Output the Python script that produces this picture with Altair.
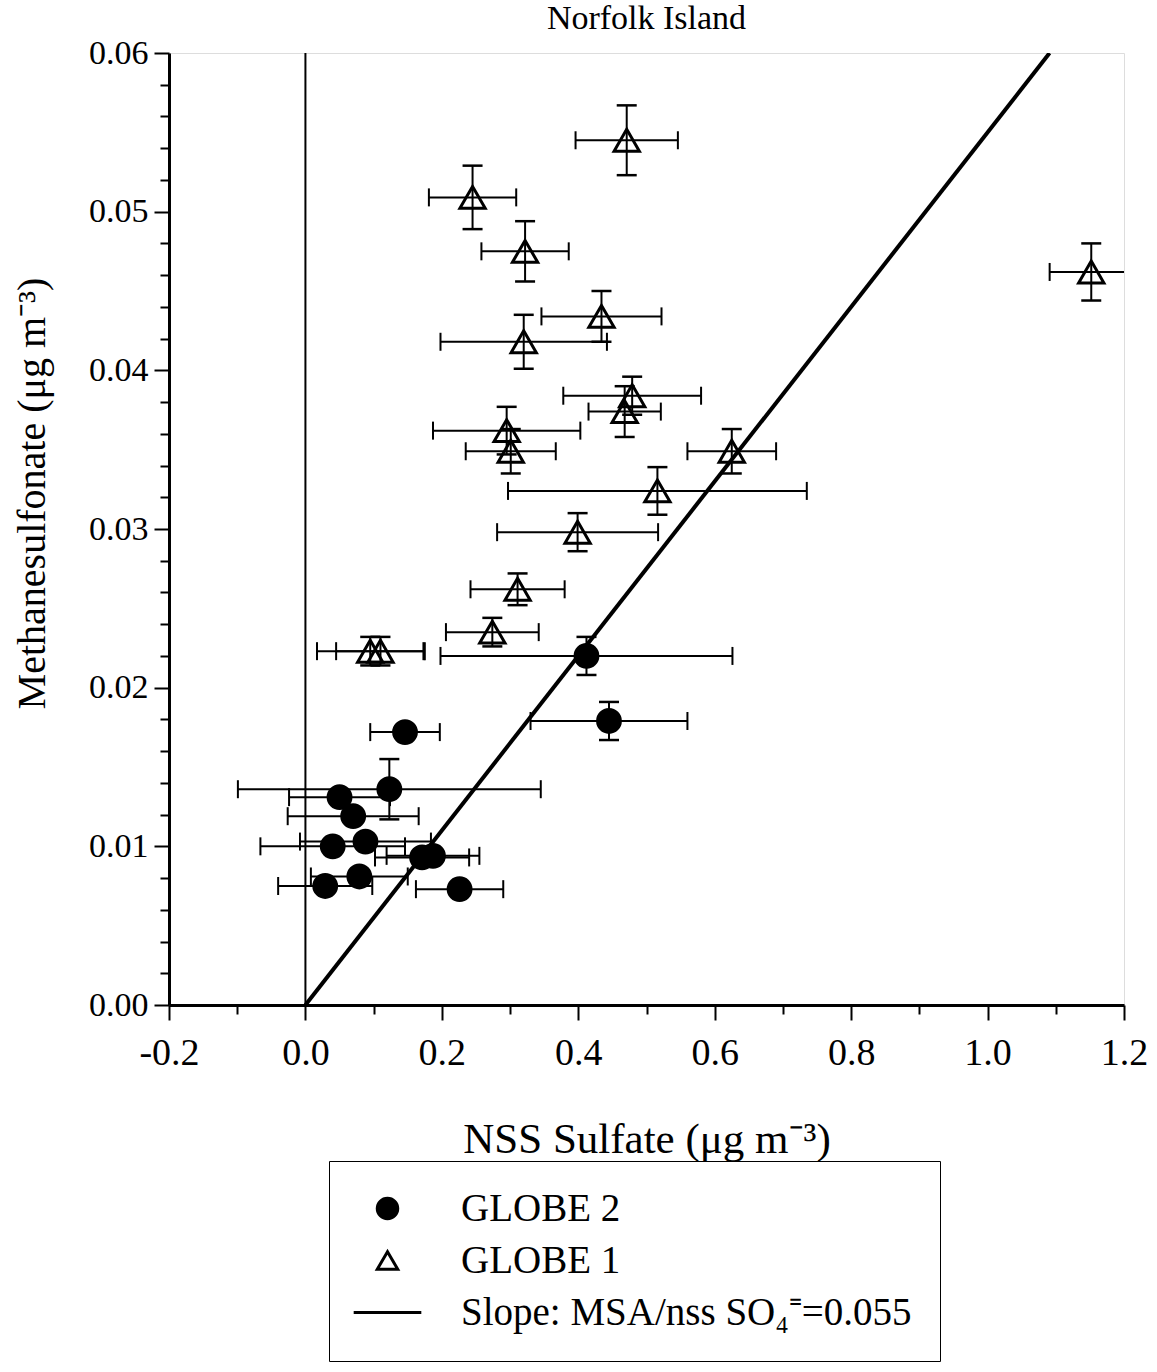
import altair as alt
import pandas as pd

# ---------------- data ----------------
# GLOBE 1 (open triangles)
g1_x = [0.471, 0.245, 0.322, 0.434, 0.320, 0.479, 0.468, 0.295, 0.301, 0.625,
        0.516, 0.399, 0.311, 0.274, 0.095, 0.110, 1.152]
g1_y = [0.0545, 0.0509, 0.0475, 0.0434, 0.0418, 0.0384, 0.0374, 0.0362, 0.0349,
        0.0349, 0.0324, 0.0298, 0.0262, 0.0235, 0.0223, 0.0223, 0.0462]
g1_xerr = [0.075, 0.064, 0.064, 0.088, 0.122, 0.101, 0.053, 0.108, 0.066, 0.065,
           0.219, 0.118, 0.069, 0.068, 0.078, 0.065, 0.061]
g1_yerr = [0.0022, 0.0020, 0.0019, 0.0016, 0.0017, 0.0012, 0.0016, 0.0015, 0.0014,
           0.0014, 0.0015, 0.0012, 0.0010, 0.0009, 0.0009, 0.0009, 0.0018]

# GLOBE 2 (filled circles)
g2_x = [0.412, 0.146, 0.445, 0.123, 0.050, 0.070, 0.040, 0.088, 0.171, 0.187,
        0.029, 0.079, 0.226]
g2_y = [0.0220, 0.0172, 0.0179, 0.0136, 0.0131, 0.0119, 0.0100, 0.0103, 0.0093,
        0.0094, 0.0075, 0.0081, 0.0073]
g2_xerr = [0.214, 0.051, 0.115, 0.222, 0.074, 0.096, 0.106, 0.096, 0.069, 0.068,
           0.069, 0.071, 0.064]
g2_yerr = [0.0012, 0.0, 0.0012, 0.0019, 0.0, 0.0, 0.0, 0.0, 0.0, 0.0, 0.0, 0.0, 0.0]

slope_value = 0.055
slope_x = [0.0, 0.06 / slope_value]
zero_x = [0.0]

legend_items = ["GLOBE 2", "GLOBE 1", "Slope: MSA/nss SO\u2084\u207c=0.055"]

x_ticks = [round(-0.2 + 0.1 * i, 2) for i in range(15)]
y_ticks = [round(0.002 * i, 3) for i in range(31)]

# ---------------- tables ----------------
rows = []
for name, xs, ys, xe, ye in [("GLOBE 2", g2_x, g2_y, g2_xerr, g2_yerr),
                             ("GLOBE 1", g1_x, g1_y, g1_xerr, g1_yerr)]:
    for a, b, c, d in zip(xs, ys, xe, ye):
        rows.append({"series": name, "x": a, "y": b,
                     "xlo": a - c, "xhi": a + c, "ylo": b - d, "yhi": b + d, "yerr": d})
df = pd.DataFrame(rows)

hcaps = pd.DataFrame({"cx": list(df["xlo"]) + list(df["xhi"]),
                      "cy": list(df["y"]) * 2})
dv = df[df["yerr"] > 0]
vcaps = pd.DataFrame({"cx": list(dv["x"]) * 2,
                      "cy": list(dv["ylo"]) + list(dv["yhi"])})
slope_df = pd.DataFrame({"x": slope_x, "y": [slope_value * v for v in slope_x]})
zero_df = pd.DataFrame({"x": zero_x})

FONT = "Liberation Serif"
xscale = alt.Scale(domain=[-0.2, 1.2], nice=False, zero=False)
yscale = alt.Scale(domain=[0.0, 0.06], nice=False, zero=False)

x_major = "abs(datum.value*5 - round(datum.value*5)) < 1e-6"
y_major = "abs(datum.value*100 - round(datum.value*100)) < 1e-6"

xaxis = alt.Axis(values=x_ticks, grid=False,
                 labelExpr=f"{x_major} ? replace(format(datum.value, '.1f'), '\u2212', '-') : ''",
                 tickSize={"condition": {"test": x_major, "value": 15}, "value": 9},
                 tickWidth=2, tickColor="black", domainWidth=3, domainColor="black",
                 labelFont=FONT, labelFontSize=38, labelColor="black", labelPadding=14,
                 labelFlush=False, labelOverlap=False,
                 titleFont=FONT, titleFontSize=43, titleFontWeight="normal",
                 titleColor="black", titlePadding=46)
yaxis = alt.Axis(values=y_ticks, grid=False,
                 labelExpr=f"{y_major} ? format(datum.value, '.2f') : ''",
                 tickSize={"condition": {"test": y_major, "value": 15}, "value": 9},
                 tickWidth=2, tickColor="black", domainWidth=3, domainColor="black",
                 labelFont=FONT, labelFontSize=34, labelColor="black", labelPadding=6,
                 labelFlush=False, labelOverlap=False,
                 titleFont=FONT, titleFontSize=40, titleFontWeight="normal",
                 titleColor="black", titlePadding=36, titleY=440)

XT = "NSS Sulfate (\u03bcg m\u207b\u00b3)"
YT = "Methanesulfonate (\u03bcg m\u207b\u00b3)"


def X(field):
    return alt.X(field, type="quantitative", scale=xscale, axis=xaxis, title=XT)


def Y(field):
    return alt.Y(field, type="quantitative", scale=yscale, axis=yaxis, title=YT)


zero_line = alt.Chart(zero_df).mark_rule(color="black", strokeWidth=2, clip=True).encode(
    x=X("x"))

slope_line = alt.Chart(slope_df).mark_line(color="black", strokeWidth=4, clip=True).encode(
    x=X("x"), y=Y("y"))

hbars = alt.Chart(df).mark_rule(color="black", strokeWidth=2, clip=True).encode(
    x=X("xlo"), x2="xhi", y=Y("y"))
hcap = alt.Chart(hcaps).mark_tick(orient="vertical", color="black", size=18,
                                  thickness=2, opacity=1, clip=True).encode(
    x=X("cx"), y=Y("cy"))
vbars = alt.Chart(dv).mark_rule(color="black", strokeWidth=2, clip=True).encode(
    x=X("x"), y=Y("ylo"), y2="yhi")
vcap = alt.Chart(vcaps).mark_tick(orient="horizontal", color="black", size=20,
                                  thickness=2.5, opacity=1, clip=True).encode(
    x=X("cx"), y=Y("cy"))

legend = alt.Legend(
    orient="none", legendX=160, legendY=1108, direction="vertical",
    strokeColor="black", fillColor="white", padding=28, cornerRadius=0,
    labelFont=FONT, labelFontSize=39, labelColor="black", labelLimit=900,
    labelOffset=54, symbolOffset=11, rowPadding=12, symbolSize=420,
    symbolStrokeWidth=3, symbolOpacity=1,
)

line_symbol = "M-3.3,0L3.3,0"

points = alt.Chart(df).mark_point(filled=True, strokeWidth=3,
                                  opacity=1, clip=True).encode(
    x=X("x"), y=Y("y"),
    shape=alt.Shape("series:N", title=None,
                    scale=alt.Scale(domain=legend_items,
                                    range=["circle", "triangle-up", line_symbol]),
                    legend=legend),
    fill=alt.Fill("series:N", title=None,
                  scale=alt.Scale(domain=legend_items,
                                  range=["black", "transparent", "black"]),
                  legend=legend),
    stroke=alt.Stroke("series:N", title=None,
                      scale=alt.Scale(domain=legend_items,
                                      range=["black", "black", "black"]),
                      legend=legend),
    size=alt.condition(alt.datum.series == "GLOBE 2", alt.value(520), alt.value(640)),
)

chart = alt.layer(zero_line, slope_line, hbars, hcap, vbars, vcap, points).properties(
    width=955, height=952,
    title=alt.TitleParams("Norfolk Island", font=FONT, fontSize=34,
                          fontWeight="normal", color="black", anchor="middle", offset=0),
    padding={"left": 12, "top": 2, "right": 5, "bottom": 2},
).configure_view(stroke="black", strokeWidth=3).configure(background="white")

chart.save("out.html", embed_options={"renderer": "svg", "actions": False})
